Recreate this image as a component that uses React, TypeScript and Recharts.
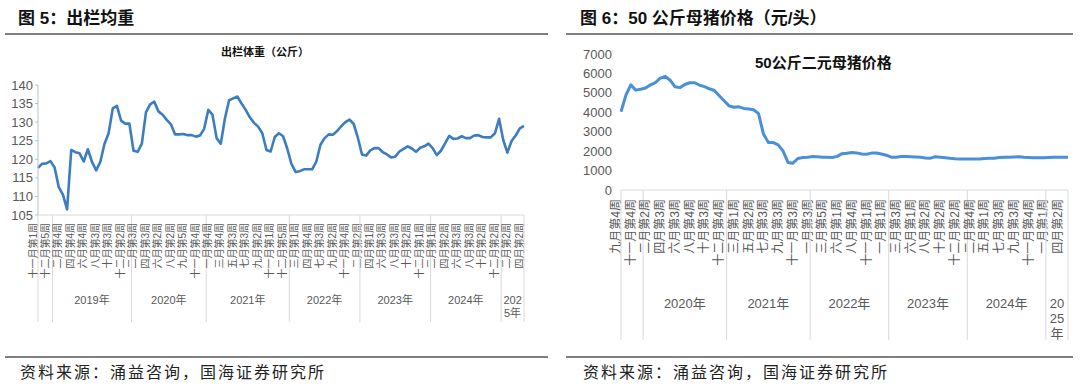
import React from "react";
import { LineChart, Line, XAxis, YAxis } from "recharts";

const FONT = "'Liberation Sans', 'Noto Sans CJK SC', sans-serif";

// ---- 图5 出栏均重 ----
const leftLabels = [
  "十一月第1周", "十二月第5周",
  "二月第4周", "四月第4周", "六月第4周", "八月第3周", "十月第3周", "十二月第2周",
  "二月第3周", "四月第3周", "六月第2周", "八月第2周", "九月第5周", "十一月第4周",
  "一月第4周", "三月第4周", "五月第3周", "七月第3周", "九月第2周", "十一月第1周", "十二月第5周",
  "三月第1周", "四月第4周", "七月第3周", "九月第2周", "十一月第4周", "二月第2周",
  "四月第1周", "六月第3周", "八月第3周", "十月第2周", "十二月第1周", "二月第1周",
  "四月第2周", "六月第3周", "八月第3周", "十月第2周", "十二月第2周",
  "二月第2周", "四月第2周",
];
const leftYears = ["", "2019年", "2020年", "2021年", "2022年", "2023年", "2024年", "2025年"];
const leftYearPoints = [4, 19, 18, 20, 17, 17, 17, 6];
const leftWeight = [
  117.7, 118.8, 118.9, 119.5, 117.8, 112.5, 110.5, 106.5, 122.5, 121.9,
  121.6, 119.4, 122.7, 119.3, 117.0, 119.3, 124.1, 127.0, 133.7, 134.4,
  130.4, 129.6, 129.6, 122.3, 122.0, 124.2, 132.7, 134.8, 135.5, 132.9,
  132.0, 130.6, 129.4, 126.7, 126.7, 126.8, 126.5, 126.5, 126.1, 126.4,
  128.2, 133.3, 132.0, 125.7, 124.2, 131.0, 135.9, 136.4, 136.9, 135.0,
  133.3, 131.3, 129.8, 128.8, 127.0, 122.5, 122.1, 126.0, 127.0, 126.2,
  122.9, 118.8, 116.6, 116.8, 117.3, 117.3, 117.3, 119.4, 123.9, 125.7,
  126.7, 126.6, 127.6, 128.9, 130.0, 130.7, 129.5, 125.8, 121.3, 121.0,
  122.4, 123.0, 123.0, 121.9, 121.3, 120.5, 120.7, 122.1, 122.8, 123.5,
  122.9, 122.0, 123.1, 123.5, 124.2, 123.0, 121.1, 122.3, 124.3, 126.3,
  125.5, 125.6, 126.2, 125.7, 125.7, 126.4, 126.5, 126.0, 125.9, 125.9,
  127.0, 130.9, 125.2, 121.8, 124.9, 126.4, 128.3, 129.0,
];
const leftTicks = [105, 110, 115, 120, 125, 130, 135, 140];

// ---- 图6 50公斤母猪价格 ----
const rightLabels = [
  "九月第4周", "十一月第4周",
  "二月第2周", "四月第3周", "六月第3周", "八月第4周", "十月第3周", "十二月第4周",
  "三月第1周", "五月第2周", "七月第3周", "九月第3周", "十一月第3周", "一月第3周",
  "三月第5周", "六月第1周", "八月第4周", "十一月第1周", "一月第1周",
  "三月第3周", "六月第1周", "八月第2周", "十月第2周", "十二月第2周",
  "二月第4周", "五月第1周", "七月第3周", "九月第3周", "十一月第4周", "一月第1周",
  "四月第2周",
];
const rightYears = ["", "2020年", "2021年", "2022年", "2023年", "2024年", "2025年"];
const rightYearPoints = [5, 17, 17, 16, 16, 16, 5];
const rightPrice = [
  4030, 4880, 5410, 5140, 5190, 5250, 5410, 5530, 5760, 5850,
  5650, 5310, 5270, 5430, 5520, 5520, 5390, 5320, 5210, 5120,
  4850, 4590, 4330, 4260, 4280, 4200, 4170, 4130, 3930, 2880,
  2440, 2440, 2320, 2000, 1420, 1380, 1620, 1670, 1690, 1720,
  1710, 1690, 1680, 1670, 1730, 1870, 1890, 1930, 1910, 1850,
  1840, 1900, 1900, 1850, 1790, 1690, 1690, 1720, 1720, 1715,
  1700, 1680, 1650, 1640, 1710, 1690, 1660, 1630, 1610, 1600,
  1600, 1600, 1600, 1600, 1620, 1630, 1640, 1670, 1680, 1680,
  1700, 1710, 1680, 1670, 1660, 1660, 1660, 1670, 1680, 1680,
  1680, 1680,
];
const rightTicks = [0, 1000, 2000, 3000, 4000, 5000, 6000, 7000];

// every third point carries a tick label
const withLabels = (vals: number[], labels: string[]) =>
  vals.map((v, i) => ({ k: i, v, cat: i % 3 === 0 ? labels[i / 3] ?? "" : "" }));

const leftData = withLabels(leftWeight, leftLabels);
const rightData = withLabels(rightPrice, rightLabels);

type AxisSpec = {
  years: string[];
  yearPoints: number[];
  step: number;
  labelSize: number;
  labelGap: number;
  sepLen: number;
  yearDy: number;
  yearSize: number;
  yearLead: number;
  count: number;
};

function wrapText(t: string, maxW: number, size: number) {
  const w = (c: string) => (/[0-9]/.test(c) ? 0.556 : 1) * size;
  const lines: string[] = [];
  let cur = "";
  let cw = 0;
  for (const c of t) {
    if (cur && cw + w(c) > maxW) {
      lines.push(cur);
      cur = "";
      cw = 0;
    }
    cur += c;
    cw += w(c);
  }
  if (cur) lines.push(cur);
  return lines;
}

function GroupTick(props: any) {
  const { x, y, index, spec } = props;
  const s = spec as AxisSpec;
  const out: React.ReactNode[] = [];
  const cat = (props.cats as string[])[index] ?? "";
  if (cat) {
    const lx = x - 5;
    const ly = y + s.labelGap;
    out.push(
      <text key="l" x={lx} y={ly} transform={`rotate(-90 ${lx} ${ly})`} textAnchor="end"
        dominantBaseline="central" fontSize={s.labelSize} fill="#595959" fontFamily={FONT}>
        {cat}
      </text>
    );
  }
  let start = 0;
  s.yearPoints.forEach((n, g) => {
    if (index === start) {
      const isLast = g === s.yearPoints.length - 1;
      const left = g === 0 ? 0 : -s.step / 2;
      const right = isLast ? (n - 1) * s.step : n * s.step - s.step / 2;
      out.push(<line key={"s" + g} x1={x + left} x2={x + left} y1={y} y2={y + s.sepLen} stroke="#d9d9d9" />);
      if (s.years[g]) {
        const cx = x + (left + right) / 2;
        wrapText(s.years[g], right - left - 4, s.yearSize).forEach((t, k) =>
          out.push(
            <text key={"y" + g + k} x={cx} y={y + s.yearDy + k * s.yearLead} textAnchor="middle"
              dominantBaseline="central" fontSize={s.yearSize} fill="#595959" fontFamily={FONT}>
              {t}
            </text>
          )
        );
      }
    }
    start += n;
  });
  if (index === s.count - 1) {
    out.push(<line key="end" x1={x} x2={x} y1={y} y2={y + s.sepLen} stroke="#d9d9d9" />);
  }
  return <g>{out}</g>;
}

const LEFT_W = 540, LEFT_H = 290, LEFT_YW = 38, LEFT_MR = 16;
const RIGHT_W = 520, RIGHT_H = 302, RIGHT_YW = 61, RIGHT_MR = 12;

const leftSpec: AxisSpec = {
  years: leftYears, yearPoints: leftYearPoints,
  step: (LEFT_W - LEFT_YW - LEFT_MR) / (leftWeight.length - 1),
  labelSize: 10, labelGap: 8, sepLen: 107, yearDy: 85, yearSize: 11, yearLead: 13,
  count: leftWeight.length,
};
const rightSpec: AxisSpec = {
  years: rightYears, yearPoints: rightYearPoints,
  step: (RIGHT_W - RIGHT_YW - RIGHT_MR) / (rightPrice.length - 1),
  labelSize: 12, labelGap: 9, sepLen: 150, yearDy: 113, yearSize: 13, yearLead: 15,
  count: rightPrice.length,
};

const leftCats = leftData.map((d) => d.cat);
const rightCats = rightData.map((d) => d.cat);

const abs = (o: React.CSSProperties): React.CSSProperties => ({ position: "absolute", ...o });

export default function App() {
  return (
    <div style={{ position: "fixed", left: 0, top: 0, width: 1080, height: 391, background: "#fff", fontFamily: FONT, overflow: "hidden" }}>
      {/* headers */}
      <div style={abs({ left: 18, top: 8, fontSize: 17, fontWeight: 700, lineHeight: "22px", color: "#111", whiteSpace: "nowrap" })}>
        图 5：出栏均重
      </div>
      <div style={abs({ left: 580, top: 8, fontSize: 17, fontWeight: 700, lineHeight: "22px", color: "#111", whiteSpace: "nowrap" })}>
        图 6：50 公斤母猪价格（元/头）
      </div>
      <div style={abs({ left: 5, top: 33, width: 543, height: 2, background: "#7f7f7f" })} />
      <div style={abs({ left: 566, top: 33, width: 507, height: 2, background: "#7f7f7f" })} />

      {/* left chart */}
      <div style={abs({ left: 0, top: 40, width: LEFT_W, height: LEFT_H })}>
        <LineChart width={LEFT_W} height={LEFT_H} data={leftData} margin={{ top: 45, right: LEFT_MR, bottom: 0, left: 0 }}>
          <XAxis dataKey="k" type="category" scale="point" interval={0} height={115}
            axisLine={{ stroke: "#d9d9d9" }} tickLine={false} tickSize={0} tickMargin={0}
            tick={(p: any) => <GroupTick {...p} spec={leftSpec} cats={leftCats} />} />
          <YAxis type="number" domain={[105, 140]} ticks={leftTicks} interval={0} width={LEFT_YW} allowDataOverflow
            axisLine={{ stroke: "#bfbfbf" }} tickLine={{ stroke: "#bfbfbf" }} tickSize={3} tickMargin={2}
            tick={{ fontSize: 13, fill: "#595959", fontFamily: FONT }} />
          <Line dataKey="v" stroke="#3b7cc2" strokeWidth={2.6} dot={false} activeDot={false}
            isAnimationActive={false} strokeLinejoin="round" />
        </LineChart>
      </div>
      <div style={abs({ left: 200, top: 42, width: 130, textAlign: "center", fontSize: 11, fontWeight: 700, lineHeight: "20px", color: "#111", whiteSpace: "nowrap" })}>
        出栏体重（公斤）
      </div>

      {/* right chart */}
      <div style={abs({ left: 560, top: 40, width: RIGHT_W, height: RIGHT_H })}>
        <LineChart width={RIGHT_W} height={RIGHT_H} data={rightData} margin={{ top: 14, right: RIGHT_MR, bottom: 0, left: 0 }}>
          <XAxis dataKey="k" type="category" scale="point" interval={0} height={152}
            axisLine={{ stroke: "#d9d9d9" }} tickLine={false} tickSize={0} tickMargin={0}
            tick={(p: any) => <GroupTick {...p} spec={rightSpec} cats={rightCats} />} />
          <YAxis type="number" domain={[0, 7000]} ticks={rightTicks} interval={0} width={RIGHT_YW} allowDataOverflow
            axisLine={false} tickLine={false} tickSize={0} tickMargin={9}
            tick={{ fontSize: 13, fill: "#595959", fontFamily: FONT }} />
          <Line dataKey="v" stroke="#4a8fda" strokeWidth={3} dot={false} activeDot={false}
            isAnimationActive={false} strokeLinejoin="round" />
        </LineChart>
      </div>
      <div style={abs({ left: 755, top: 52, fontSize: 15, fontWeight: 700, lineHeight: "22px", color: "#111", whiteSpace: "nowrap" })}>
        50公斤二元母猪价格
      </div>

      {/* footers */}
      <div style={abs({ left: 5, top: 356, width: 543, height: 2, background: "#7f7f7f" })} />
      <div style={abs({ left: 566, top: 356, width: 507, height: 2, background: "#7f7f7f" })} />
      <div style={abs({ left: 20, top: 363, fontSize: 16, letterSpacing: 2, lineHeight: "20px", color: "#222", whiteSpace: "nowrap" })}>
        资料来源：涌益咨询，国海证券研究所
      </div>
      <div style={abs({ left: 583, top: 363, fontSize: 16, letterSpacing: 2, lineHeight: "20px", color: "#222", whiteSpace: "nowrap" })}>
        资料来源：涌益咨询，国海证券研究所
      </div>
    </div>
  );
}
